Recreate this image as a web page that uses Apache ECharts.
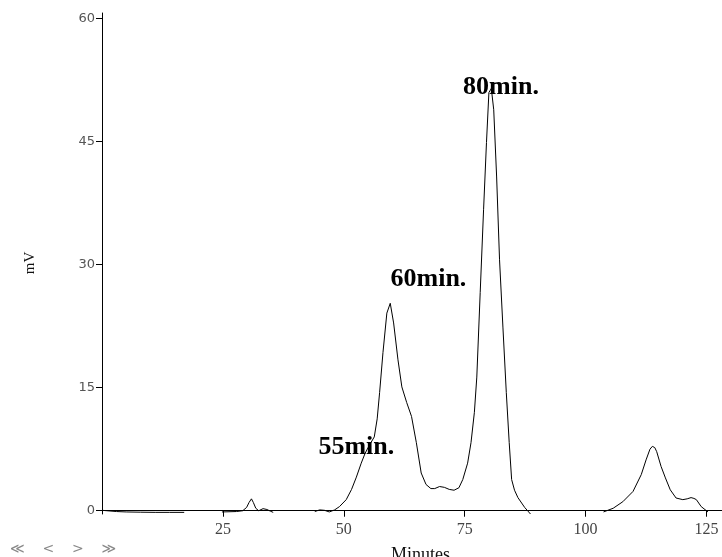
<!DOCTYPE html>
<html lang="en">
<head>
  <meta charset="UTF-8">
  <title>Chromatogram</title>
  <script src="https://cdn.jsdelivr.net/npm/echarts@6/dist/echarts.min.js"></script>
  <style>
    * {
      margin: 0;
      padding: 0;
    }

    body {
      background: #fff;
    }

    #chart {
      width: 722px;
      height: 557px;
    }
  </style>
</head>
<body>
  <div id="chart"></div>
  <script>
    // retention time (minutes) and signal (mV); null = trace drops out of view
    const times = [
      0, 1, 3, 5, 8, 11, 14, 17, 20,
      24.8, 27.8, 29.1, 29.9, 30.4, 30.9, 31.3, 31.8, 32.4, 33.3, 34.1, 34.8, 35.4, 40,
      44, 45, 46, 47, 48.1, 49.1, 50.5, 51.6, 52.6, 53.6, 54.4, 55.3, 56.3, 56.9, 57.4, 58.1, 58.9, 59.6,
      60.3, 61.2, 62, 63, 64, 65, 66, 67, 68, 68.8, 69.8, 70.8, 71.8, 72.8, 73.8, 74.6, 75.6, 76.3,
      77, 77.5, 78.2, 78.9, 79.5, 80, 80.5, 81, 81.6, 82.2, 82.9, 83.6, 84.2, 84.7, 85.3, 86, 87.4, 88.6, 95,
      103.7, 105.7, 107.7, 109.8, 111.5, 112.5, 113.3, 113.8, 114.3, 114.7, 115.6, 116.5, 117.5, 118.7,
      120.1, 121, 121.8, 122.4, 122.9, 123.9, 125.3
    ];
    const mv = [
      0.05, 0, -0.1, -0.15, -0.18, -0.2, -0.2, -0.2, null,
      -0.15, -0.1, 0, 0.4, 1.0, 1.45, 1.0, 0.3, 0, 0.25, 0.15, -0.05, -0.2, null,
      -0.1, 0.1, 0.05, -0.15, 0.1, 0.5, 1.35, 2.6, 4.1, 5.8, 7.0, 8.0, 9.0, 11.2, 14.4, 19.3, 24.1, 25.3,
      22.9, 18.4, 15.1, 13.2, 11.5, 8.3, 4.6, 3.2, 2.7, 2.7, 2.95, 2.85, 2.6, 2.5, 2.8, 3.8, 5.8, 8.3,
      12, 16.3, 26.6, 36.7, 44.9, 51, 51.5, 48.9, 40.7, 30.6, 22.4, 14.4, 8.3, 3.8, 2.5, 1.6, 0.4, -0.4, null,
      -0.15, 0.3, 1.1, 2.35, 4.4, 6.2, 7.5, 7.85, 7.7, 7.2, 5.4, 4.0, 2.55, 1.55,
      1.35, 1.45, 1.6, 1.5, 1.35, 0.5, -0.15
    ];

    const xTicks = [25, 50, 75, 100, 125];
    const yTicks = [0, 15, 30, 45, 60];

    // peak annotations: text, time, mV
    const peakNames = ['55min.', '60min.', '80min.'];
    const peakTimes = [52.6, 67.5, 82.5];
    const peakMv = [7.7, 28.2, 51.7];

    const chart = echarts.init(document.getElementById('chart'));

    const seriesData = times.map((t, i) => [t, mv[i] === null ? '-' : mv[i]]);

    const option = {
      animation: false,
      grid: {
        left: 102,
        right: 0,
        top: 13,
        bottom: 43
      },
      xAxis: {
        type: 'value',
        min: 0,
        max: 128.2,
        splitLine: { show: false },
        axisLine: { lineStyle: { color: '#000', width: 1 } },
        axisTick: {
          show: true,
          length: 6,
          customValues: xTicks,
          lineStyle: { color: '#000' }
        },
        axisLabel: {
          customValues: xTicks,
          margin: 8,
          color: '#444',
          fontFamily: 'Liberation Serif',
          fontSize: 16
        }
      },
      yAxis: {
        type: 'value',
        min: -0.4,
        max: 60.7,
        splitLine: { show: false },
        axisLine: { show: true, lineStyle: { color: '#000', width: 1 } },
        axisTick: {
          show: true,
          length: 6,
          customValues: yTicks,
          lineStyle: { color: '#000' }
        },
        axisLabel: {
          customValues: yTicks,
          margin: 7,
          color: '#555',
          fontFamily: 'DejaVu Sans',
          fontSize: 13
        }
      },
      graphic: [
        {
          type: 'text',
          left: 391,
          top: 546,
          style: { text: 'Minutes', fill: '#111', font: '18px "Liberation Serif"' }
        },
        {
          type: 'text',
          x: 30,
          y: 263,
          rotation: Math.PI / 2,
          style: {
            text: 'mV', fill: '#111', font: '15px "Liberation Serif"',
            align: 'center', verticalAlign: 'middle'
          }
        },
        {
          type: 'text',
          left: 10,
          top: 542,
          style: { text: '≪    <    >    ≫', fill: '#888', font: '14px "DejaVu Sans"' }
        }
      ],
      series: [
        {
          type: 'line',
          data: seriesData,
          showSymbol: false,
          smooth: false,
          connectNulls: false,
          lineStyle: { color: '#000', width: 1 },
          markPoint: {
            symbol: 'rect',
            symbolSize: 1,
            itemStyle: { color: 'rgba(0,0,0,0)' },
            label: {
              show: true,
              position: 'inside',
              formatter: '{b}',
              color: '#000',
              fontFamily: 'Liberation Serif',
              fontWeight: 'bold',
              fontSize: 26
            },
            data: peakNames.map((n, i) => ({ name: n, coord: [peakTimes[i], peakMv[i]] }))
          }
        }
      ]
    };

    chart.setOption(option);
  </script>
</body>
</html>
